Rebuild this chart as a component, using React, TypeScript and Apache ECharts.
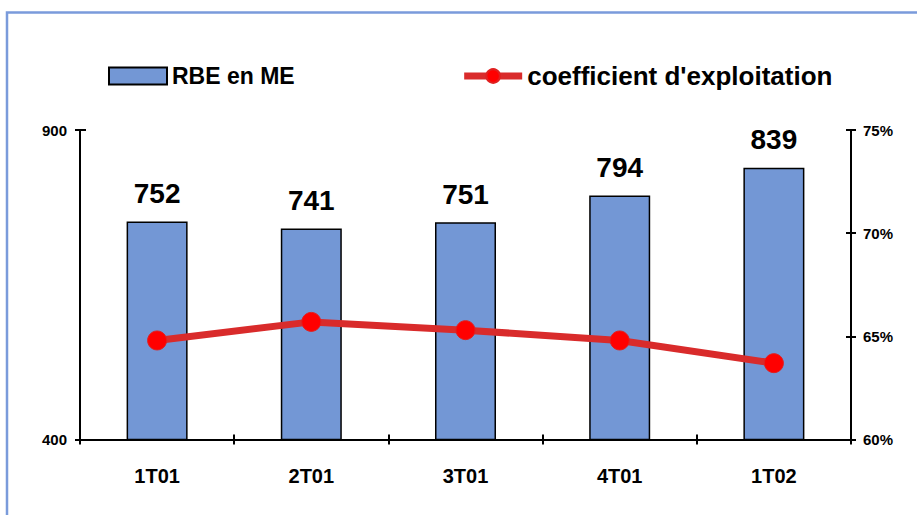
import React, { useEffect, useRef } from "react";
import * as echarts from "echarts";

const categories = ["1T01", "2T01", "3T01", "4T01", "1T02"];
const rbeValues = [752, 741, 751, 794, 839];
const coeffValues = [64.8, 65.7, 65.3, 64.8, 63.7];

const FONT = "'Liberation Sans', Arial, sans-serif";

export default function App() {
  const ref = useRef<HTMLDivElement>(null);
  useEffect(() => {
    if (!ref.current) return;
    const chart = echarts.init(ref.current, null, { renderer: "svg" });
    const axisLine = { show: true, lineStyle: { color: "#000", width: 2 } };
    chart.setOption({
      animation: false,
      backgroundColor: "#fff",
      textStyle: { fontFamily: FONT },
      graphic: [
        {
          type: "polyline",
          shape: { points: [[7, 520], [7, 12.5], [920, 12.5]] },
          style: { stroke: "#7A9BDB", lineWidth: 2.5, fill: "none" },
          silent: true,
        },
      ],
      legend: {
        left: 103,
        top: 58,
        itemGap: 166,
        itemWidth: 58,
        itemHeight: 17,
        textStyle: { fontFamily: FONT, fontWeight: "bold", fontSize: 23, color: "#000" },
        data: [
          {
            name: "RBE en ME",
            icon: "rect",
            itemStyle: { color: "#7397D5", borderColor: "#000", borderWidth: 2 },
          },
          {
            name: "coefficient d'exploitation",
            textStyle: { fontSize: 26 },
            lineStyle: { width: 7, color: "#D92B2B" },
          },
        ],
      },
      grid: { left: 80, right: 66, top: 130, bottom: 75.5 },
      xAxis: [
        {
          type: "category",
          data: categories,
          position: "bottom",
          boundaryGap: true,
          axisLine,
          axisTick: { show: true, length: 5, lineStyle: { color: "#000", width: 2 } },
          axisLabel: { margin: 26, fontFamily: FONT, fontWeight: "bold", fontSize: 20, color: "#000" },
        },
        {
          type: "category",
          data: categories,
          position: "bottom",
          boundaryGap: true,
          axisLine: { show: false },
          axisTick: { show: true, inside: true, length: 5, lineStyle: { color: "#000", width: 2 } },
          axisLabel: { show: false },
        },
      ],
      yAxis: [
        {
          type: "value",
          position: "left",
          min: 400,
          max: 900,
          interval: 500,
          axisLine,
          axisTick: { show: true, length: 5, lineStyle: { color: "#000", width: 2 } },
          splitLine: { show: false },
          axisLabel: { margin: 13, fontFamily: FONT, fontWeight: "bold", fontSize: 15, color: "#000" },
        },
        {
          type: "value",
          position: "right",
          min: 60,
          max: 75,
          interval: 5,
          axisLine,
          axisTick: { show: true, length: 5, lineStyle: { color: "#000", width: 2 } },
          splitLine: { show: false },
          axisLabel: {
            margin: 12,
            formatter: "{value}%",
            fontFamily: FONT,
            fontWeight: "bold",
            fontSize: 15,
            color: "#000",
          },
        },
        {
          type: "value",
          position: "left",
          min: 400,
          max: 900,
          interval: 500,
          axisLine: { show: false },
          axisTick: { show: true, inside: true, length: 6, lineStyle: { color: "#000", width: 2 } },
          splitLine: { show: false },
          axisLabel: { show: false },
        },
        {
          type: "value",
          position: "right",
          min: 60,
          max: 75,
          interval: 5,
          axisLine: { show: false },
          axisTick: { show: true, inside: true, length: 5, lineStyle: { color: "#000", width: 2 } },
          splitLine: { show: false },
          axisLabel: { show: false },
        },
      ],
      series: [
        {
          name: "RBE en ME",
          type: "bar",
          xAxisIndex: 0,
          yAxisIndex: 0,
          data: rbeValues,
          barWidth: 61,
          itemStyle: { color: "#7397D5", borderColor: "#000", borderWidth: 1.5 },
          label: {
            show: true,
            position: "top",
            distance: 14,
            fontFamily: FONT,
            fontWeight: "bold",
            fontSize: 28,
            color: "#000",
          },
          z: 2,
        },
        {
          name: "coefficient d'exploitation",
          type: "line",
          xAxisIndex: 0,
          yAxisIndex: 1,
          data: coeffValues,
          symbol: "circle",
          symbolSize: 19,
          lineStyle: { color: "#D92B2B", width: 7 },
          itemStyle: { color: "#FF0000", borderColor: "#E02020", borderWidth: 1 },
          z: 3,
        },
      ],
    });
    return () => chart.dispose();
  }, []);
  return (
    <div
      ref={ref}
      style={{ position: "fixed", left: 0, top: 0, width: 917, height: 515, background: "#fff" }}
    />
  );
}
